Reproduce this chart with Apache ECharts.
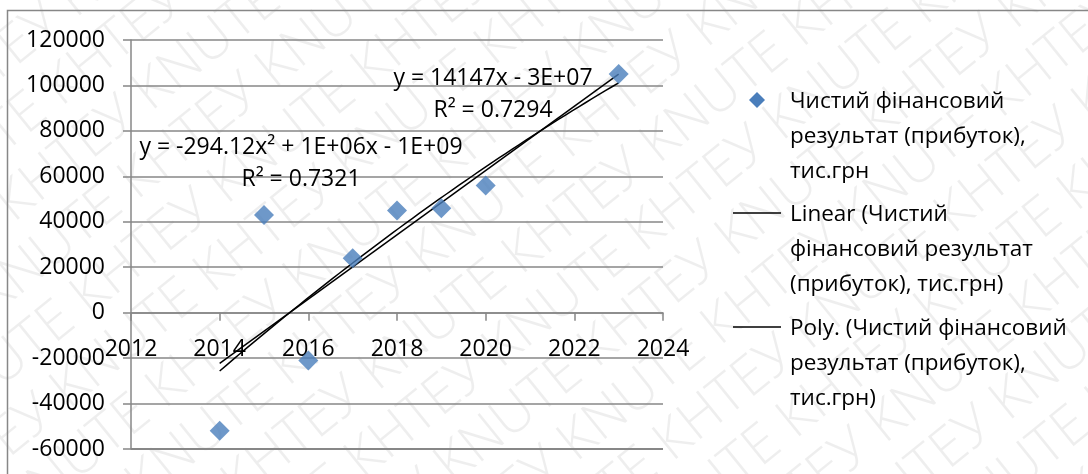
<!DOCTYPE html>
<html>
<head>
<meta charset="utf-8">
<title>Чистий фінансовий результат</title>
<script src="https://cdn.jsdelivr.net/npm/echarts@6/dist/echarts.min.js"></script>
<style>
  html, body { margin: 0; padding: 0; background: #ffffff; }
  #chart { width: 1088px; height: 474px; }
</style>
</head>
<body>
<div id="chart"></div>
<script>
// Net financial result (profit) by year, thousand UAH
const years = [2014, 2015, 2016, 2017, 2018, 2019, 2020, 2023];
const profit = [-52000, 43000, -21000, 24000, 45000, 46000, 56000, 105000];

// Axis ranges
const xTicks = { min: 2012, max: 2024, interval: 2 };
const yTicks = { min: -60000, max: 120000, interval: 20000 };

// Legend / trendline captions
const seriesName = 'Чистий фінансовий\nрезультат (прибуток),\nтис.грн';
const linearName = 'Linear (Чистий\nфінансовий результат\n(прибуток), тис.грн)';
const polyName = 'Poly. (Чистий фінансовий\nрезультат (прибуток),\nтис.грн)';
const linearEq = ['y = 14147x - 3E+07', 'R² = 0.7294'];
const polyEq = ['y = -294.12x² + 1E+06x - 1E+09', 'R² = 0.7321'];

const FONT = '"Open Sans", "Noto Sans", sans-serif';
const GRID_COLOR = '#878787';

// Plot area
const GRID = { left: 131, right: 425, top: 40, bottom: 25 };
const plotHeight = 474 - GRID.top - GRID.bottom;
// shift the horizontal axis up so it crosses the vertical axis at y = 0
const xAxisOffset = -plotHeight * (0 - yTicks.min) / (yTicks.max - yTicks.min);

// Least-squares polynomial fit (x centred for numeric stability)
function polyfit(xs, ys, degree) {
  const x0 = xs.reduce((a, b) => a + b, 0) / xs.length;
  const n = degree + 1;
  const A = [];
  for (let r = 0; r < n; r++) {
    A.push(new Array(n + 1).fill(0));
  }
  xs.forEach((xv, i) => {
    const t = xv - x0;
    for (let r = 0; r < n; r++) {
      for (let c = 0; c < n; c++) A[r][c] += Math.pow(t, r + c);
      A[r][n] += ys[i] * Math.pow(t, r);
    }
  });
  for (let p = 0; p < n; p++) {
    let best = p;
    for (let r = p + 1; r < n; r++) if (Math.abs(A[r][p]) > Math.abs(A[best][p])) best = r;
    [A[p], A[best]] = [A[best], A[p]];
    for (let r = 0; r < n; r++) {
      if (r === p) continue;
      const f = A[r][p] / A[p][p];
      for (let c = p; c <= n; c++) A[r][c] -= f * A[p][c];
    }
  }
  const coef = A.map((row, i) => row[n] / row[i]);
  return (xv) => coef.reduce((s, c, i) => s + c * Math.pow(xv - x0, i), 0);
}

function curve(fn, from, to, steps) {
  const pts = [];
  for (let i = 0; i <= steps; i++) {
    const xv = from + (to - from) * i / steps;
    pts.push([xv, fn(xv)]);
  }
  return pts;
}

const xFirst = Math.min(...years);
const xLast = Math.max(...years);
const linearFit = polyfit(years, profit, 1);
const polyFit = polyfit(years, profit, 2);

// Diagonal "KNUTE КНТЕУ" background stamp
function watermark() {
  const rowText = ('KNUTE КНТЕУ ').repeat(8);
  const rows = [];
  for (let k = -11; k <= 11; k++) {
    rows.push({
      type: 'text',
      x: -950 + (k % 2 === 0 ? 0 : 110),
      y: k * 60,
      style: {
        text: rowText,
        font: '300 55px ' + FONT,
        fill: 'rgba(0,0,0,0.065)',
        verticalAlign: 'middle'
      },
      silent: true
    });
  }
  return {
    id: 'stamp',
    type: 'group',
    x: 544,
    y: 237,
    rotation: 0.68,
    silent: true,
    z: -10,
    children: rows
  };
}

// Legend drawn as graphic blocks so each marker sits on the first text line
function legendBlock(id, top, marker, text) {
  return {
    id: id,
    type: 'group',
    children: [
      marker,
      {
        type: 'text',
        x: 790,
        y: top,
        style: {
          text: text,
          font: '22.5px ' + FONT,
          fill: '#000000',
          lineHeight: 35,
          verticalAlign: 'top'
        }
      }
    ]
  };
}

function eqText(id, x, y, text) {
  return {
    id: id, type: 'text', x: x, y: y, z: 10,
    style: { text: text, font: '23px ' + FONT, fill: '#000', align: 'center', verticalAlign: 'middle' }
  };
}

const chart = echarts.init(document.getElementById('chart'));

chart.setOption({
  backgroundColor: '#ffffff',
  animation: false,
  textStyle: { fontFamily: FONT },
  grid: Object.assign({ containLabel: false, outerBoundsMode: 'none' }, GRID),
  xAxis: {
    // year axis, crossing at y = 0
    type: 'value',
    position: 'bottom',
    offset: xAxisOffset,
    min: xTicks.min,
    max: xTicks.max,
    interval: xTicks.interval,
    axisLine: { onZero: false, lineStyle: { color: GRID_COLOR, width: 1.5 } },
    axisTick: { show: true, length: 8, lineStyle: { color: GRID_COLOR, width: 1.5 } },
    axisLabel: {
      color: '#000000', fontSize: 23, fontFamily: FONT, margin: 25,
      showMinLabel: true, showMaxLabel: true,
      formatter: (v) => String(v)
    },
    splitLine: { show: false }
  },
  yAxis: {
    type: 'value',
    min: yTicks.min,
    max: yTicks.max,
    interval: yTicks.interval,
    axisLine: { show: true, onZero: false, lineStyle: { color: GRID_COLOR, width: 1.5 } },
    axisTick: { show: true, length: 8, lineStyle: { color: GRID_COLOR, width: 1.5 } },
    axisLabel: {
      color: '#000000', fontSize: 23, fontFamily: FONT, margin: 26,
      formatter: (v) => String(v)
    },
    splitLine: {
      show: true, showMinLine: true, showMaxLine: true,
      lineStyle: { color: GRID_COLOR, width: 1.5 }
    }
  },
  series: [
    {
      name: seriesName,
      type: 'scatter',
      symbol: 'diamond',
      symbolSize: [20, 20],
      itemStyle: { color: '#4a7ebb' },
      data: years.map((y, i) => [y, profit[i]]),
      z: 5
    },
    {
      name: linearName,
      type: 'line',
      showSymbol: false,
      lineStyle: { color: '#000000', width: 1.5 },
      data: curve(linearFit, xFirst, xLast, 1),
      z: 4
    },
    {
      name: polyName,
      type: 'line',
      showSymbol: false,
      lineStyle: { color: '#000000', width: 1.5 },
      data: curve(polyFit, xFirst, xLast, 60),
      z: 4
    }
  ],
  graphic: [
    watermark(),
    {
      id: 'frame',
      type: 'rect',
      shape: { x: 7.5, y: 10.5, width: 1200, height: 600 },
      style: { fill: 'rgba(0,0,0,0)', stroke: GRID_COLOR, lineWidth: 1.5 },
      silent: true
    },
    // trendline equations
    eqText('eqLin1', 493, 78, linearEq[0]),
    eqText('eqLin2', 493, 110, linearEq[1]),
    eqText('eqPoly1', 301, 147, polyEq[0]),
    eqText('eqPoly2', 301, 179, polyEq[1]),
    // legend
    legendBlock('lgScatter', 84, {
      type: 'polygon',
      shape: { points: [[757, 92], [765, 100], [757, 108], [749, 100]] },
      style: { fill: '#4a7ebb' }
    }, seriesName),
    legendBlock('lgLinear', 197, {
      type: 'line',
      shape: { x1: 733, y1: 213, x2: 781, y2: 213 },
      style: { stroke: '#000', lineWidth: 1.5 }
    }, linearName),
    legendBlock('lgPoly', 311, {
      type: 'line',
      shape: { x1: 733, y1: 327, x2: 781, y2: 327 },
      style: { stroke: '#000', lineWidth: 1.5 }
    }, polyName)
  ]
});

// bottom edge of the plot area (y = -60000), placed through the axes' own scales
const yBottom = chart.convertToPixel({ yAxisIndex: 0 }, yTicks.min);
const xLeft = chart.convertToPixel({ xAxisIndex: 0 }, xTicks.min);
const xRight = chart.convertToPixel({ xAxisIndex: 0 }, xTicks.max);
chart.setOption({
  graphic: [{
    id: 'plotBottom',
    type: 'rect',
    z: 100,
    silent: true,
    shape: { x: xLeft, y: yBottom - 1, width: xRight - xLeft, height: 2 },
    style: { fill: GRID_COLOR }
  }]
});
</script>
</body>
</html>
